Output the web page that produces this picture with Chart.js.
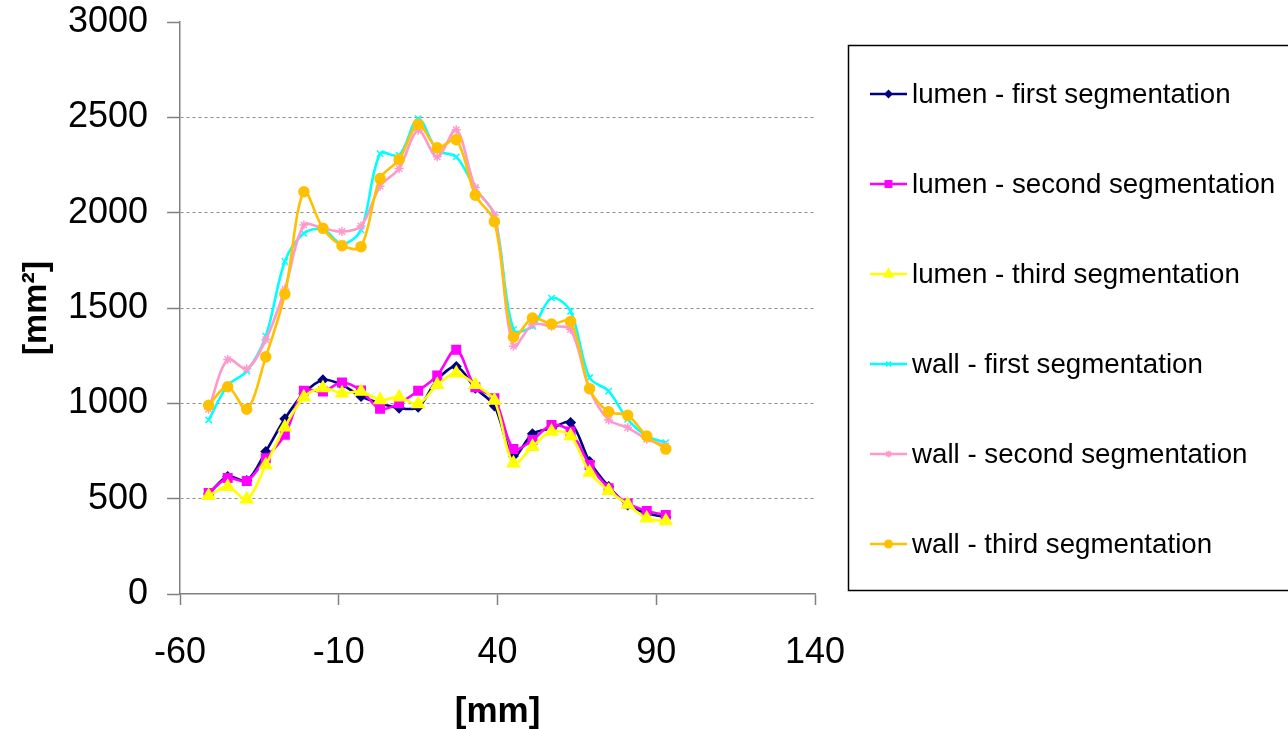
<!DOCTYPE html>
<html>
<head>
<meta charset="utf-8">
<script src="https://cdn.jsdelivr.net/npm/chart.js@4/dist/chart.umd.min.js"></script>
<style>
  body { margin: 0; background: #fff; }
  canvas { display: block; }
</style>
</head>
<body>
<canvas id="myChart" width="1288" height="729"></canvas>
<script>
// position along the vessel [mm]
var positions = [-51, -45, -39, -33, -27, -21, -15, -9, -3, 3, 9, 15, 21, 27, 33, 39, 45, 51, 57, 63, 69, 75, 81, 87, 93];

// areas [mm2]
var lumen1 = [525, 616, 595, 747, 919, 1053, 1123, 1097, 1036, 1001, 975, 980, 1123, 1193, 1080, 987, 724, 840, 869, 899, 695, 563, 467, 423, 404];
var lumen2 = [530, 608, 593, 712, 835, 1066, 1062, 1109, 1067, 971, 1001, 1066, 1146, 1281, 1085, 1027, 761, 808, 887, 852, 677, 555, 475, 436, 415];
var lumen3 = [515, 563, 497, 677, 875, 1032, 1080, 1053, 1062, 1018, 1032, 997, 1097, 1158, 1097, 1015, 686, 773, 852, 829, 637, 542, 470, 397, 383];
var wall1 = [913, 1094, 1169, 1352, 1744, 1892, 1913, 1836, 1910, 2310, 2301, 2493, 2327, 2293, 2127, 1988, 1387, 1404, 1552, 1483, 1134, 1064, 916, 829, 794];
var wall2 = [969, 1230, 1181, 1334, 1599, 1935, 1918, 1901, 1930, 2139, 2232, 2432, 2293, 2435, 2132, 1988, 1300, 1413, 1404, 1387, 1073, 913, 873, 812, 777];
var wall3 = [990, 1087, 969, 1244, 1573, 2110, 1918, 1827, 1822, 2179, 2279, 2463, 2341, 2383, 2092, 1953, 1348, 1448, 1416, 1430, 1077, 956, 937, 829, 760];

var seriesNames = ['lumen - first segmentation', 'lumen - second segmentation', 'lumen - third segmentation',
                   'wall - first segmentation', 'wall - second segmentation', 'wall - third segmentation'];
var xTicks = [-60, -10, 40, 90, 140];
var yTicks = [0, 500, 1000, 1500, 2000, 2500, 3000];

var allValues = [lumen1, lumen2, lumen3, wall1, wall2, wall3];
var colors = ['#000080', '#ff00ff', '#ffff00', '#00ffff', '#ff99cc', '#ffc000'];
var markers = ['rectRot', 'rect', 'triangle', 'crossRot', 'star', 'circle'];
var radii = [4.5, 6, 7, 4.5, 4.5, 5];

function toPoints(vals) {
    var pts = [];
    for (var i = 0; i < positions.length; i++) {
        pts.push({ x: positions[i], y: vals[i] });
    }
    return pts;
}

var datasets = [];
for (var i = 0; i < allValues.length; i++) {
    datasets.push({
        label: seriesNames[i],
        data: toPoints(allValues[i]),
        borderColor: colors[i],
        backgroundColor: colors[i],
        borderWidth: 2.6,
        pointStyle: markers[i],
        pointRadius: radii[i],
        pointBorderWidth: 1.5,
        tension: 0.33,
        order: allValues.length - i
    });
}

// the excel style legend box on the right (the built-in one can't get this wide)
const boxLegend = {
    id: 'boxLegend',
    afterDraw(chart) {
        var ctx = chart.ctx;
        ctx.save();
        ctx.strokeStyle = '#000';
        ctx.lineWidth = 1.5;
        ctx.strokeRect(848.5, 45.5, 500, 545);
        ctx.font = "27.7px 'Liberation Sans', Arial, sans-serif";
        ctx.textBaseline = 'middle';
        ctx.textAlign = 'left';
        chart.data.datasets.forEach(function (ds, i) {
            var y = 94 + i * 90;
            ctx.strokeStyle = colors[i];
            ctx.fillStyle = colors[i];
            ctx.lineWidth = 2.5;
            ctx.beginPath();
            ctx.moveTo(870, y);
            ctx.lineTo(907, y);
            ctx.stroke();
            ctx.lineWidth = 1.5;
            Chart.helpers.drawPoint(ctx, { pointStyle: markers[i], radius: radii[i] * 0.75, rotation: 0, borderWidth: 1.5 }, 888.5, y);
            ctx.fillStyle = '#000';
            ctx.fillText(ds.label, 912, y + 1);
        });
        ctx.restore();
    }
};

Chart.defaults.font.family = "'Liberation Sans', Arial, sans-serif";
Chart.defaults.color = '#000';

const ctx = document.getElementById('myChart').getContext('2d');
const myChart = new Chart(ctx, {
    type: 'line',
    data: { datasets: datasets },
    options: {
        responsive: false,
        animation: false,
        layout: { padding: { left: 0, top: 0, bottom: 0, right: 473 } },
        plugins: {
            tooltip: { enabled: false },
            legend: { display: false }
        },
        scales: {
            x: {
                type: 'linear',
                min: xTicks[0],
                max: xTicks[xTicks.length - 1],
                afterBuildTicks: function (axis) {
                    axis.ticks = xTicks.map(function (v) { return { value: v }; });
                },
                ticks: { font: { size: 36 }, padding: 26, color: '#000',
                         callback: function (v) { return String(v); } },
                grid: { drawOnChartArea: false, drawTicks: true, tickLength: 11, tickColor: '#808080', tickWidth: 1.5 },
                border: { color: '#808080', width: 1.5 },
                title: {
                    display: true,
                    text: '[mm]',
                    font: { size: 35, weight: 'bold' },
                    padding: { top: -9.2, bottom: -4 }
                }
            },
            y: {
                min: 0,
                max: 3000,
                afterBuildTicks: function (axis) {
                    axis.ticks = yTicks.map(function (v) { return { value: v }; });
                },
                ticks: { font: { size: 36, lineHeight: 0.17 }, padding: 19, color: '#000',
                         callback: function (v) { return String(v); } },
                grid: {
                    color: function (c) {
                        if (c.tick && (c.tick.value === 0 || c.tick.value === 3000)) return 'rgba(0,0,0,0)';
                        return '#8c8c8c';
                    },
                    lineWidth: 1,
                    tickLength: 13,
                    tickColor: '#808080',
                    tickWidth: 1.5,
                    tickBorderDash: [1, 0]
                },
                border: { color: '#808080', width: 1.5, dash: [3, 3] },
                title: {
                    display: true,
                    text: '[mm²]',
                    font: { size: 34, weight: 'bold' },
                    padding: { top: 16, bottom: -7.8 }
                }
            }
        }
    },
    plugins: [boxLegend]
});
</script>
</body>
</html>
